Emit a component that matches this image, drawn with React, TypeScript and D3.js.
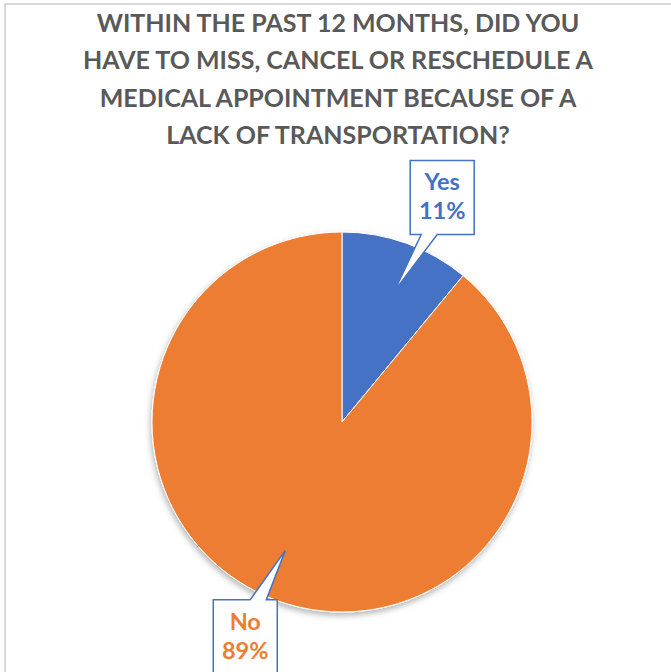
import React from "react";
import * as d3 from "d3";

const categories = ["Yes", "No"];
const values = [11, 89];
const colors = ["#4472C4", "#ED7D31"];
const titleLines = [
  "WITHIN THE PAST 12 MONTHS, DID YOU",
  "HAVE TO MISS, CANCEL OR RESCHEDULE A",
  "MEDICAL APPOINTMENT BECAUSE OF A",
  "LACK OF TRANSPORTATION?",
];

const W = 671;
const H = 672;
const cx = 342;
const cy = 422;
const R = 190;
const FONT = "Lato, 'Open Sans', sans-serif";

// callout layout: tip angle shift (deg), box center offsets relative to tip
const callouts = [
  { da: 2, dx: 48, dy: -94, w: 64, h: 74, baseA: 11 },
  { da: 4, dx: -40, dy: 89, w: 64, h: 80, baseA: 37 },
];

export default function App() {
  const pie = d3.pie<number>().sort(null).value((d) => d);
  const arcs = pie(values);
  const arc = d3.arc<d3.PieArcDatum<number>>().innerRadius(0).outerRadius(R);
  const total = d3.sum(values);

  return (
    <svg
      width={W}
      height={H}
      style={{ position: "absolute", left: 0, top: 0, background: "#fff" }}
    >
      <defs>
        <filter id="sh" x="-20%" y="-20%" width="140%" height="140%">
          <feDropShadow dx="-1" dy="3" stdDeviation="3" floodColor="#000" floodOpacity="0.3" />
        </filter>
      </defs>
      <rect x={0} y={0} width={W} height={H} fill="#fff" />
      <line x1={4} y1={4} x2={W} y2={4} stroke="#d9d9d9" strokeWidth={2} />
      <line x1={5} y1={4} x2={5} y2={H} stroke="#d9d9d9" strokeWidth={2} />
      {titleLines.map((t, i) => (
        <text
          key={i}
          x={338}
          y={32 + i * 37.3}
          textAnchor="middle"
          fontFamily={FONT}
          fontWeight={700}
          fontSize={25}
          fill="#595959"
        >
          {t}
        </text>
      ))}
      <g transform={`translate(${cx},${cy})`} filter="url(#sh)">
        {arcs.map((a, i) => (
          <path key={i} d={arc(a) || ""} fill={colors[i]} stroke="#fff" strokeWidth={1} />
        ))}
      </g>
      {arcs.map((a, i) => {
        const c = callouts[i];
        const mid = (a.startAngle + a.endAngle) / 2 + (c.da * Math.PI) / 180;
        const rr = R * 0.74;
        const tx = cx + rr * Math.sin(mid);
        const ty = cy - rr * Math.cos(mid);
        const bx = tx + c.dx - c.w / 2;
        const by = ty + c.dy - c.h / 2;
        const pct = Math.round((values[i] / total) * 100) + "%";
        const below = ty > by + c.h;
        const edgeY = below ? by + c.h : by;
        const baseX1 = bx + c.baseA;
        const baseX2 = bx + c.baseA + 16;
        const pts = below
          ? [
              [bx, by],
              [bx + c.w, by],
              [bx + c.w, edgeY],
              [baseX2, edgeY],
              [tx, ty],
              [baseX1, edgeY],
              [bx, edgeY],
            ]
          : [
              [bx, by],
              [baseX1, by],
              [tx, ty],
              [baseX2, by],
              [bx + c.w, by],
              [bx + c.w, by + c.h],
              [bx, by + c.h],
            ];
        const textTop = by + 30;
        return (
          <g key={"c" + i}>
            <path
              d={"M" + pts.map((p) => p.join(",")).join("L") + "Z"}
              fill="#fff"
              stroke="#4472C4"
              strokeWidth={1.5}
            />
            <text
              x={bx + c.w / 2}
              y={textTop}
              textAnchor="middle"
              fontFamily={FONT}
              fontWeight={700}
              fontSize={23.5}
              fill={colors[i]}
            >
              {categories[i]}
            </text>
            <text
              x={bx + c.w / 2}
              y={textTop + 29}
              textAnchor="middle"
              fontFamily={FONT}
              fontWeight={700}
              fontSize={23.5}
              fill={colors[i]}
            >
              {pct}
            </text>
          </g>
        );
      })}
    </svg>
  );
}
